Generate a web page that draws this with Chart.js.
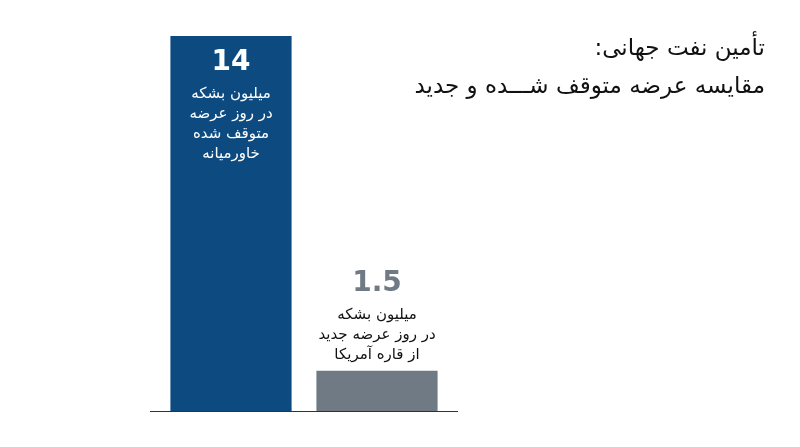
<!DOCTYPE html>
<html><head><meta charset="utf-8">
<script src="https://cdn.jsdelivr.net/npm/chart.js@4/dist/chart.umd.min.js"></script>
<style>
body{margin:0;background:#fff;width:800px;height:447px;overflow:hidden;position:relative;font-family:"DejaVu Sans","Noto Sans",sans-serif}
#wrap{position:absolute;left:0;top:0;width:800px;height:447px}
#title{position:absolute;right:35px;top:28px;direction:rtl;text-align:right;font-size:23px;line-height:38px;color:#111}
</style></head><body>
<div id="wrap"><canvas id="c"></canvas></div>
<div id="title">تأمین نفت جهانی:<br>مقایسه عرضه متوقف شـــده و جدید</div>
<script>
// داده‌ها
const categories = ['خاورمیانه', 'آمریکا'];
const values = [14, 1.5];
const barColors = ['#0c4a80', '#6f7a84'];
const valueLabels = ['14', '1.5'];
const captions = [
  ['میلیون بشکه', 'در روز عرضه', 'متوقف شده', 'خاورمیانه'],
  ['میلیون بشکه', 'در روز عرضه جدید', 'از قاره آمریکا']
];

// متن روی/بالای ستون‌ها و خط پایه
const labelPlugin = {
  id: 'labels',
  afterDatasetsDraw(chart) {
    const ctx = chart.ctx;
    const a = chart.chartArea;
    ctx.save();
    ctx.strokeStyle = '#333'; ctx.lineWidth = 1;
    ctx.beginPath(); ctx.moveTo(a.left - 8, a.bottom + 0.5); ctx.lineTo(a.right + 8, a.bottom + 0.5); ctx.stroke();
    ctx.textAlign = 'center'; ctx.direction = 'rtl';
    chart.getDatasetMeta(0).data.forEach((bar, i) => {
      const inside = i === 0;
      let y = inside ? bar.y + 34 : bar.y - 80;
      ctx.fillStyle = inside ? '#fff' : '#6f7a84';
      ctx.font = 'bold 28px "DejaVu Sans", sans-serif';
      ctx.fillText(valueLabels[i], bar.x, y);
      ctx.font = '15px "DejaVu Sans", sans-serif';
      ctx.fillStyle = inside ? '#fff' : '#111';
      y += 28;
      captions[i].forEach(t => { ctx.fillText(t, bar.x, y); y += 20; });
    });
    ctx.restore();
  }
};

new Chart(document.getElementById('c'), {
  type: 'bar',
  data: { labels: categories, datasets: [{ data: values, backgroundColor: barColors, borderWidth: 0, barPercentage: 0.83, categoryPercentage: 1 }] },
  options: {
    responsive: true, maintainAspectRatio: false, animation: false,
    layout: { padding: { left: 158, right: 350, top: 36, bottom: 36 } },
    plugins: { legend: { display: false }, tooltip: { enabled: false } },
    scales: {
      x: { display: false },
      y: { display: false, min: 0, max: 14 }
    }
  },
  plugins: [labelPlugin]
});
</script>
</body></html>
